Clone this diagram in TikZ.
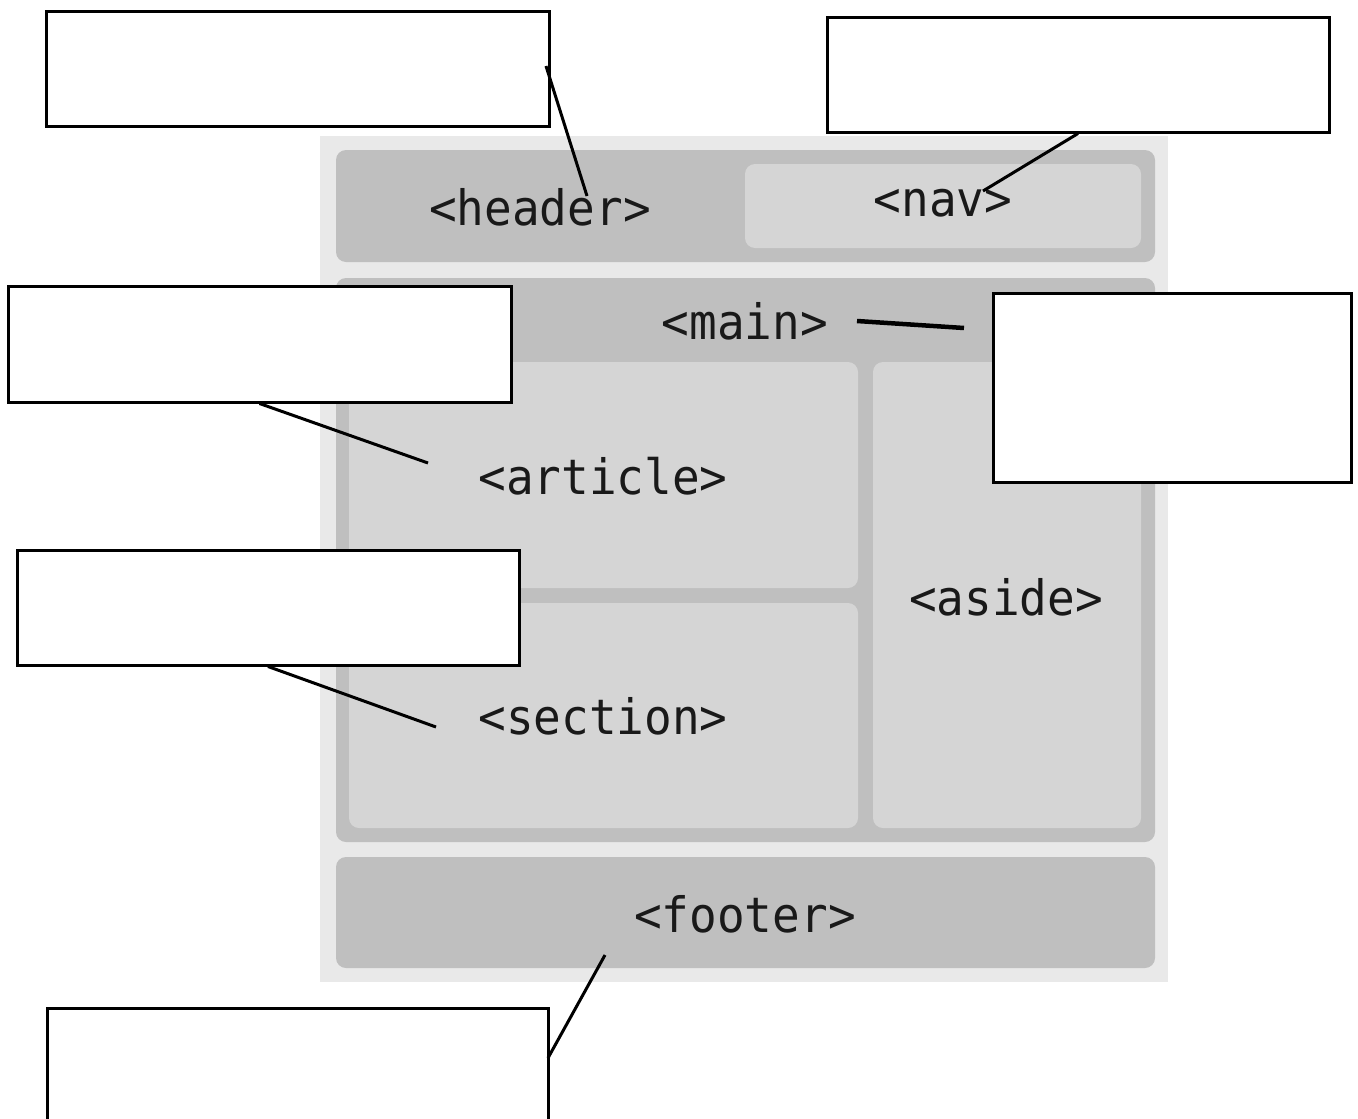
\documentclass[tikz,border=0pt]{standalone}
\usepackage{fontspec}
\newfontfamily\tagfont{DejaVu Sans Mono}
\begin{document}
\begin{tikzpicture}[x=1pt,y=-1pt,
  region/.style={rounded corners=10pt, fill=#1, draw=none},
  tag/.style={font=\tagfont\fontsize{46}{50}\selectfont, text=black!90, inner sep=0pt, yscale=1.06},
  callout/.style={draw=black, line width=3pt, fill=white, inner sep=0pt},
  leader/.style={draw=black, line width=3pt}
]
\useasboundingbox (0,0) rectangle (1358,1119);
\definecolor{bgl}{HTML}{E9E9E9}
\definecolor{mid}{HTML}{BFBFBF}
\definecolor{lite}{HTML}{D5D5D5}
% page frame
\fill[bgl] (320,136) rectangle (1168,982);
% header bar and nav
\fill[region=mid] (336,150) rectangle (1155,262);
\fill[region=lite] (745,164) rectangle (1141,248);
% main
\fill[region=mid] (336,278) rectangle (1155,842);
\fill[region=lite] (349,362) rectangle (858,588);
\fill[region=lite] (349,603) rectangle (858,828);
\fill[region=lite] (873,362) rectangle (1141,828);
% footer
\fill[region=mid] (336,857) rectangle (1155,968);
% labels
\node[tag] (header) at (540,207) {<header>};
\node[tag] (nav) at (943,203) {<nav>};
\node[tag] (main) at (745,321) {<main>};
\node[tag] (article) at (603,476) {<article>};
\node[tag] (section) at (603,716) {<section>};
\node[tag] (aside) at (1006,597) {<aside>};
\node[tag] (footer) at (745,914) {<footer>};
% callout boxes
\node[callout, minimum width=503pt, minimum height=115pt] (b1) at (297.5,68.5) {};
\node[callout, minimum width=502pt, minimum height=115pt] (b2) at (1078,74.5) {};
\node[callout, minimum width=503pt, minimum height=116pt] (b3) at (259.5,344) {};
\node[callout, minimum width=358pt, minimum height=189pt] (b4) at (1172,387.5) {};
\node[callout, minimum width=502pt, minimum height=115pt] (b5) at (268,607.5) {};
\node[callout, minimum width=501pt, minimum height=124pt] (b6) at (297.5,1070) {};
% leader end points
\coordinate (hdrtip) at (587,196);
\coordinate (navtip) at (983,191);
\coordinate (mainA) at (857,321);
\coordinate (mainB) at (964,328);
\coordinate (arttip) at (428,463);
\coordinate (sectip) at (436,727);
\coordinate (foottip) at (605,955);
\coordinate (b1end) at (546,66);
\coordinate (b6end) at (548,1058);
% leaders
\draw[leader] (b1end) -- (hdrtip);
\draw[leader] (b2.south) -- (navtip);
\draw[leader, line width=4.5pt] (mainA) -- (mainB);
\draw[leader] (b3.south) -- (arttip);
\draw[leader] (b5.south) -- (sectip);
\draw[leader] (foottip) -- (b6end);
\end{tikzpicture}
\end{document}
